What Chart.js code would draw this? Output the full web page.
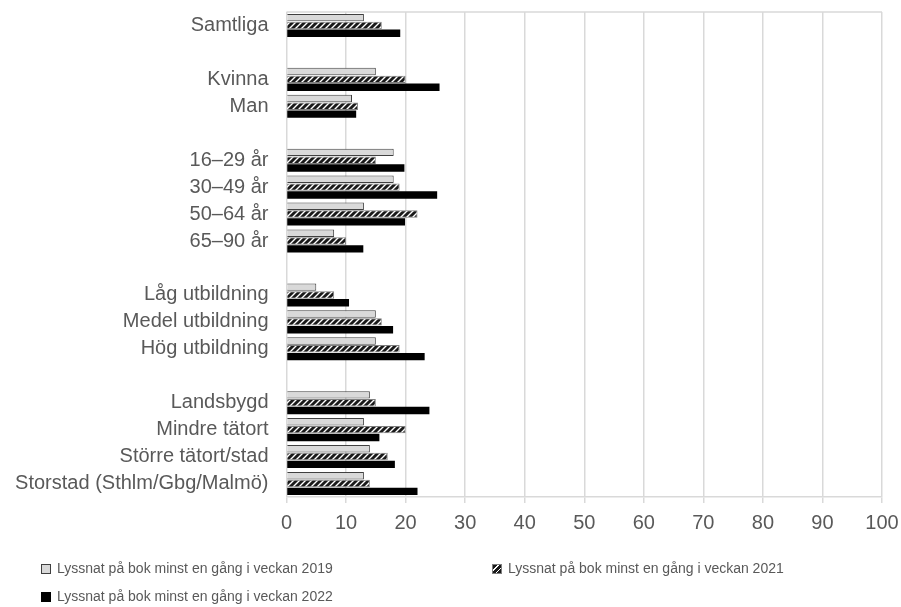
<!DOCTYPE html>
<html>
<head>
<meta charset="utf-8">
<script src="https://cdn.jsdelivr.net/npm/chart.js"></script>
<style>
  body { margin: 0; background: #fff; }
  #wrap { position: relative; width: 901px; height: 607px; }
  #chart { position: absolute; left: 0; top: 0; }
  .leg { position: absolute; font-family: "Liberation Sans", Arial, sans-serif; font-size: 14px; color: #595959; white-space: nowrap; line-height: 16px; }
  .sw { display: inline-block; width: 8px; height: 8px; margin-right: 6px; vertical-align: -1px; box-sizing: content-box; }
</style>
</head>
<body>
<div id="wrap">
  <canvas id="chart" width="901" height="607"></canvas>
  <div class="leg" style="left:41px; top:560px;"><span class="sw" style="background:#d9d9d9; border:1px solid #404040;"></span>Lyssnat på bok minst en gång i veckan 2019</div>
  <div class="leg" style="left:492px; top:560px;"><span class="sw" style="border:1px solid #7f7f7f; background:repeating-linear-gradient(-45deg, #1a1a1a 0 3px, #fff 3px 4px);"></span>Lyssnat på bok minst en gång i veckan 2021</div>
  <div class="leg" style="left:41px; top:588px;"><span class="sw" style="background:#000; border:1px solid #000;"></span>Lyssnat på bok minst en gång i veckan 2022</div>
</div>
<script>
// categories, empty strings are the gaps between groups
var categories = ['Samtliga', '', 'Kvinna', 'Man', '', '16–29 år', '30–49 år', '50–64 år', '65–90 år', '',
    'Låg utbildning', 'Medel utbildning', 'Hög utbildning', '',
    'Landsbygd', 'Mindre tätort', 'Större tätort/stad', 'Storstad (Sthlm/Gbg/Malmö)'];

var values2019 = [13, null, 15, 11, null, 18, 18, 13, 8, null, 5, 15, 15, null, 14, 13, 14, 13];
var values2021 = [16, null, 20, 12, null, 15, 19, 22, 10, null, 8, 16, 19, null, 15, 20, 17, 14];
var values2022 = [19.1, null, 25.7, 11.7, null, 19.8, 25.3, 19.9, 12.9, null, 10.5, 17.9, 23.2, null, 24, 15.6, 18.2, 22];

var seriesNames = ['Lyssnat på bok minst en gång i veckan 2019',
    'Lyssnat på bok minst en gång i veckan 2021',
    'Lyssnat på bok minst en gång i veckan 2022'];

var fontFamily = '"Liberation Sans", Arial, sans-serif';
var textColor = '#595959';
var gridColor = '#d9d9d9';

// diagonal hatch for 2021
function makeHatch() {
    var c = document.createElement('canvas');
    c.width = 6;
    c.height = 6;
    var ctx = c.getContext('2d');
    ctx.fillStyle = '#1a1a1a';
    ctx.fillRect(0, 0, 6, 6);
    ctx.strokeStyle = '#ffffff';
    ctx.lineWidth = 1.4;
    ctx.beginPath();
    ctx.moveTo(-1, 7); ctx.lineTo(7, -1);
    ctx.moveTo(-4, 4); ctx.lineTo(4, -4);
    ctx.moveTo(2, 10); ctx.lineTo(10, 2);
    ctx.stroke();
    return document.getElementById('chart').getContext('2d').createPattern(c, 'repeat');
}

// top line of the plot frame
var frameTop = {
    id: 'frameTop',
    beforeDatasetsDraw: function (chart) {
        var a = chart.chartArea;
        var ctx = chart.ctx;
        ctx.save();
        ctx.strokeStyle = gridColor;
        ctx.lineWidth = 1.5;
        ctx.beginPath();
        ctx.moveTo(a.left, a.top);
        ctx.lineTo(a.right, a.top);
        ctx.stroke();
        ctx.restore();
    }
};

new Chart(document.getElementById('chart'), {
    type: 'bar',
    data: {
        labels: categories,
        datasets: [{
            label: seriesNames[0],
            data: values2019,
            backgroundColor: '#d9d9d9',
            borderColor: '#404040',
            borderWidth: 1
        }, {
            label: seriesNames[1],
            data: values2021,
            backgroundColor: makeHatch(),
            borderColor: '#7f7f7f',
            borderWidth: 1
        }, {
            label: seriesNames[2],
            data: values2022,
            backgroundColor: '#000000',
            borderColor: '#000000',
            borderWidth: 0
        }]
    },
    plugins: [frameTop],
    options: {
        indexAxis: 'y',
        responsive: false,
        animation: false,
        categoryPercentage: 0.87,
        barPercentage: 0.95,
        layout: { padding: { top: 12, right: 19, bottom: 0, left: 0 } },
        plugins: {
            legend: { display: false },
            tooltip: { enabled: false }
        },
        scales: {
            x: {
                min: 0,
                max: 100,
                ticks: {
                    stepSize: 10,
                    color: textColor,
                    font: { family: fontFamily, size: 20 },
                    padding: 8
                },
                grid: { color: gridColor, tickLength: 6, lineWidth: 1.5 },
                border: { color: gridColor, width: 1.5 },
                afterFit: function (scale) {
                    scale.height = 110;
                    scale.paddingLeft = 0;
                    scale.paddingRight = 0;
                }
            },
            y: {
                ticks: {
                    color: textColor,
                    font: { family: fontFamily, size: 20 },
                    padding: 18,
                    autoSkip: false
                },
                grid: { display: false, drawTicks: false },
                border: { display: false },
                afterFit: function (scale) {
                    scale.width = 286.5;
                    scale.paddingTop = 0;
                    scale.paddingBottom = 0;
                }
            }
        }
    }
});
</script>
</body>
</html>
